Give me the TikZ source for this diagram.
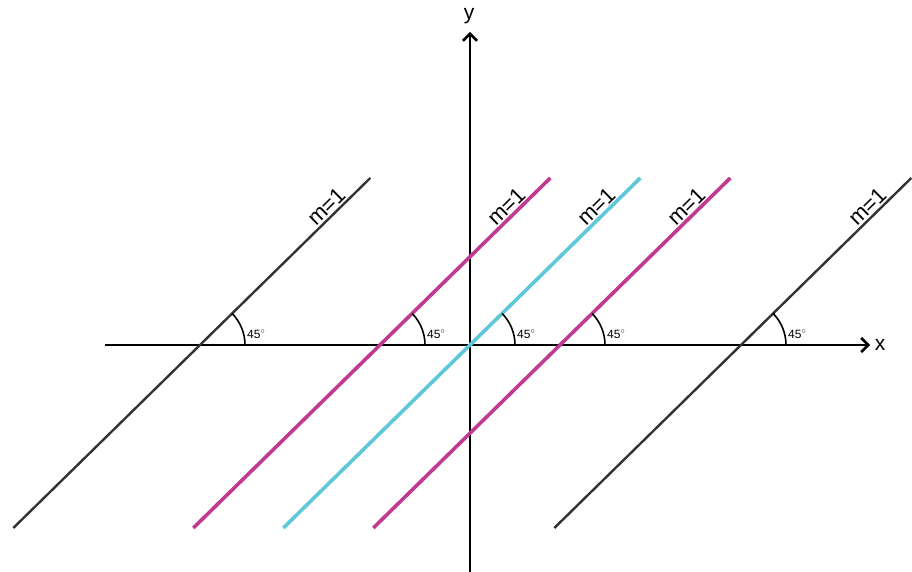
\documentclass[tikz,border=0pt]{standalone}
\usepackage{fontspec}
\setmainfont{Liberation Sans}
\usetikzlibrary{arrows.meta,calc}
\definecolor{magline}{HTML}{C03A92}
\definecolor{cyanline}{HTML}{5EC8DA}
\definecolor{grayline}{HTML}{333333}
\tikzset{
  axis/.style={line width=2.6pt, black, -{Straight Barb[length=7pt,width=14pt,line width=2.6pt]}},
  graylinestyle/.style={line width=2.4pt, grayline},
  magstyle/.style={line width=3.6pt, magline},
  cyanstyle/.style={line width=3.6pt, cyanline},
  anglearc/.style={line width=1.6pt, black},
  anglelabel/.style={anchor=west, inner sep=0pt, font=\fontsize{12}{12}\selectfont},
  slopelabel/.style={anchor=south, inner sep=2.5pt, rotate=44.4, font=\fontsize{22}{22}\selectfont},
  axislabel/.style={inner sep=0pt, font=\fontsize{21}{21}\selectfont}
}
\begin{document}
\begin{tikzpicture}[x=1pt,y=1pt]
\useasboundingbox (0,0) rectangle (912,572);
% axes
\coordinate (xs) at (105,227);
\coordinate (xe) at (870,227);
\coordinate (ys) at (470,0);
\coordinate (ye) at (470,540);
\draw[axis] (xs) -- (xe);
\draw[axis] (ys) -- (ye);
\node[axislabel] (xl) at (880,227) {x};
\node[axislabel] (yl) at (469,556) {y};
% crossings
\foreach \n/\cx/\sty in {1/200/graylinestyle,2/380/magstyle,3/470/cyanstyle,4/560/magstyle,5/741/graylinestyle}{
  \coordinate (c\n) at (\cx,227);
  \coordinate (b\n) at ($(c\n)+(-186.7,-183)$);
  \coordinate (t\n) at ($(c\n)+(170.3,167)$);
  \draw[\sty] (b\n) -- (t\n);
  \draw[anglearc] ($(c\n)+(45,0)$) arc[start angle=0,end angle=44.4,radius=45];
  \node[anglelabel] (a\n) at ($(c\n)+(47,11)$) {45$^{\circ}$};
  \node[slopelabel] (m\n) at ($(c\n)+(134,131.3)$) {m=1};
}
\end{tikzpicture}
\end{document}
